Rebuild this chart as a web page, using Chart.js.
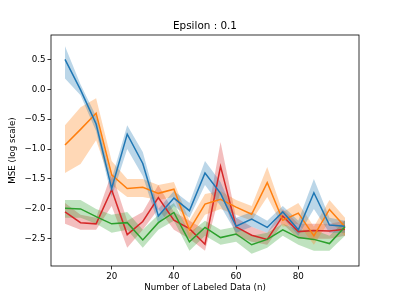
<!DOCTYPE html>
<html>
<head>
<meta charset="utf-8">
<script src="https://cdn.jsdelivr.net/npm/chart.js@4"></script>
<style>
  html, body { margin: 0; padding: 0; background: white; }
  #wrap { width: 399px; height: 299px; }
</style>
</head>
<body>
<div id="wrap"><canvas id="myChart"></canvas></div>
<script>
// Waarden
const nValues = [5, 10, 15, 20, 25, 30, 35, 40, 45, 50, 55, 60, 65, 70, 75, 80, 85, 90, 95];

const blueMean = [0.50, -0.01, -0.58, -1.66, -0.75, -1.24, -2.12, -1.82, -2.03, -1.40, -1.74, -2.29, -2.17, -2.31, -2.05, -2.35, -1.73, -2.27, -2.29];
const blueLow  = [0.18, -0.10, -0.70, -1.80, -1.00, -1.45, -2.25, -1.95, -2.15, -1.60, -1.95, -2.40, -2.30, -2.40, -2.15, -2.45, -2.00, -2.40, -2.40];
const blueHigh = [0.72, 0.08, -0.45, -1.50, -0.60, -1.05, -2.00, -1.70, -1.90, -1.20, -1.55, -2.15, -2.05, -2.20, -1.95, -2.20, -1.50, -2.15, -2.20];

const orangeMean = [-0.93, -0.67, -0.40, -1.43, -1.66, -1.64, -1.74, -1.67, -2.35, -1.92, -1.84, -1.97, -2.09, -1.56, -2.19, -2.07, -2.45, -2.01, -2.30];
const orangeLow  = [-1.40, -1.25, -0.85, -1.60, -1.80, -1.80, -1.85, -1.80, -2.50, -2.10, -2.00, -2.10, -2.20, -1.80, -2.30, -2.25, -2.60, -2.20, -2.45];
const orangeHigh = [-0.60, -0.30, -0.15, -1.20, -1.50, -1.50, -1.60, -1.55, -2.20, -1.75, -1.70, -1.85, -1.95, -1.30, -2.05, -1.90, -2.30, -1.85, -2.15];

const greenMean = [-1.99, -2.00, -2.13, -2.25, -2.23, -2.52, -2.23, -2.06, -2.55, -2.31, -2.48, -2.42, -2.60, -2.51, -2.35, -2.48, -2.51, -2.58, -2.30];
const greenLow  = [-2.15, -2.15, -2.25, -2.40, -2.35, -2.65, -2.35, -2.20, -2.70, -2.45, -2.60, -2.55, -2.75, -2.65, -2.45, -2.60, -2.70, -2.70, -2.45];
const greenHigh = [-1.85, -1.85, -2.00, -2.10, -2.05, -2.35, -2.10, -1.90, -2.40, -2.20, -2.35, -2.30, -2.45, -2.40, -2.25, -2.35, -2.35, -2.45, -2.20];

const redMean = [-2.05, -2.23, -2.25, -1.68, -2.43, -2.21, -1.81, -2.19, -2.33, -2.59, -1.29, -2.30, -2.44, -2.51, -2.12, -2.38, -2.36, -2.37, -2.34];
const redLow  = [-2.25, -2.35, -2.35, -1.95, -2.65, -2.35, -2.00, -2.35, -2.50, -2.70, -1.70, -2.45, -2.55, -2.60, -2.25, -2.50, -2.50, -2.50, -2.45];
const redHigh = [-1.90, -2.10, -2.15, -1.40, -2.20, -2.05, -1.60, -2.05, -2.20, -2.35, -0.88, -2.15, -2.30, -2.40, -2.00, -2.25, -2.25, -2.25, -2.20];

const xTickValues = [20, 40, 60, 80];
const yTickValues = [-2.5, -2.0, -1.5, -1.0, -0.5, 0.0, 0.5];

const FONT = 'DejaVu Sans';
const toPoints = (arr) => arr.map((v, i) => ({ x: nValues[i], y: v }));

function seriesDatasets(mean, low, high, color, band) {
    return [
        { data: toPoints(mean), borderColor: color, borderWidth: 1.5, pointRadius: 0, fill: false, order: 0 },
        { data: toPoints(low), borderWidth: 0, borderColor: 'transparent', pointRadius: 0, fill: false, order: 1 },
        { data: toPoints(high), borderWidth: 0, borderColor: 'transparent', pointRadius: 0, fill: '-1', backgroundColor: band, order: 1 }
    ];
}

// titels en rand zoals in matplotlib
const framePlugin = {
    id: 'frame',
    afterDraw(chart) {
        const { ctx, chartArea: a } = chart;
        ctx.save();
        ctx.strokeStyle = '#000';
        ctx.lineWidth = 0.8;
        ctx.strokeRect(a.left, a.top, a.right - a.left, a.bottom - a.top);
        ctx.fillStyle = '#000';
        ctx.textAlign = 'center';
        ctx.textBaseline = 'middle';
        ctx.font = '10.4px ' + FONT;
        ctx.fillText('Epsilon : 0.1', (a.left + a.right) / 2, 26);
        ctx.font = '8.7px ' + FONT;
        ctx.fillText('Number of Labeled Data (n)', (a.left + a.right) / 2, 288);
        ctx.translate(13, (a.top + a.bottom) / 2);
        ctx.rotate(-Math.PI / 2);
        ctx.fillText('MSE (log scale)', 0, 0);
        ctx.restore();
    }
};

const ctx = document.getElementById('myChart');

const mseChart = new Chart(ctx, {
    type: 'line',
    data: {
        datasets: [
            ...seriesDatasets(blueMean, blueLow, blueHigh, '#1f77b4', 'rgba(31,119,180,0.3)'),
            ...seriesDatasets(orangeMean, orangeLow, orangeHigh, '#ff7f0e', 'rgba(255,127,14,0.3)'),
            ...seriesDatasets(greenMean, greenLow, greenHigh, '#2ca02c', 'rgba(44,160,44,0.3)'),
            ...seriesDatasets(redMean, redLow, redHigh, '#d62728', 'rgba(214,39,40,0.3)')
        ]
    },
    options: {
        responsive: true,
        maintainAspectRatio: false,
        animation: false,
        layout: { padding: { top: 35, right: 40, left: 0, bottom: 0 } },
        plugins: {
            legend: { display: false },
            title: { display: false },
            tooltip: { enabled: false }
        },
        elements: { line: { tension: 0 } },
        scales: {
            x: {
                type: 'linear',
                min: 0.5,
                max: 99.5,
                afterBuildTicks: (scale) => { scale.ticks = xTickValues.map(v => ({ value: v })); },
                afterFit: (scale) => { scale.height = 33; },
                ticks: { color: '#000', font: { family: FONT, size: 8.7 }, padding: 2, maxRotation: 0 },
                grid: { drawOnChartArea: false, tickLength: 3.5, color: '#000', tickWidth: 0.8 },
                border: { display: false }
            },
            y: {
                min: -2.955,
                max: 0.908,
                afterBuildTicks: (scale) => { scale.ticks = yTickValues.map(v => ({ value: v })); },
                afterFit: (scale) => { scale.width = 51; },
                ticks: { color: '#000', font: { family: FONT, size: 8.7 }, padding: 2,
                         callback: (v) => (v < 0 ? '\u2212' + Math.abs(v).toFixed(1) : v.toFixed(1)) },
                grid: { drawOnChartArea: false, tickLength: 3.5, color: '#000', tickWidth: 0.8 },
                border: { display: false }
            }
        }
    },
    plugins: [framePlugin]
});
</script>
</body>
</html>
